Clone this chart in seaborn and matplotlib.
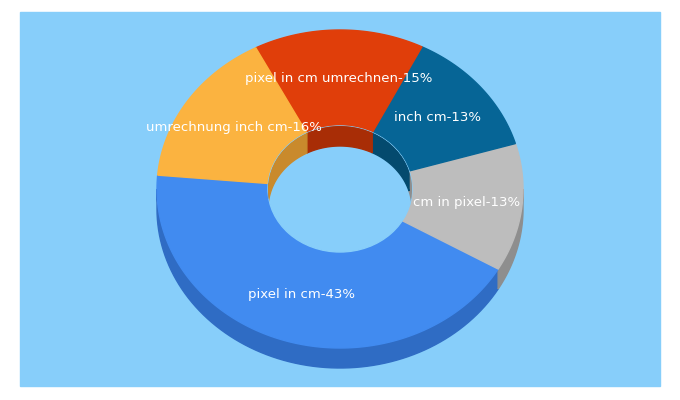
import numpy as np
import matplotlib
matplotlib.use("Agg")
import matplotlib.pyplot as plt
from matplotlib.patches import Polygon, Rectangle, Ellipse
import seaborn as sns

sns.set_theme(style="white")
plt.rcParams["font.family"] = ["DejaVu Sans"]

labels = ["pixel in cm", "cm in pixel", "inch cm", "pixel in cm umrechnen", "umrechnung inch cm"]
shares = [43, 13, 13, 15, 16]
colors = ["#418bf0", "#bdbdbd", "#066596", "#e03e0a", "#fbb340"]
sides = ["#2f6cc4", "#8e8e8e", "#044a6e", "#a82d06", "#c98a2c"]

cx, cy, rx, ry, irx, iry, depth = 340, 189, 183, 159, 72, 63, 20
start = 175.0

fig = plt.figure(figsize=(6.8, 4), dpi=100)
ax = fig.add_axes([0, 0, 1, 1])
ax.set_xlim(0, 680)
ax.set_ylim(400, 0)
ax.axis("off")
ax.add_patch(Rectangle((20, 12), 640, 374, color="#87cefa", zorder=0))


def pt(a, sx, sy, dy=0):
    r = np.radians(a)
    return cx + sx * np.cos(r), cy - sy * np.sin(r) + dy


angles = []
a = start
for s in shares:
    angles.append((a, a + s * 3.6))
    a += s * 3.6

# outer side walls (front half only)
for (a1, a2), sc in zip(angles, sides):
    for k in (0, 360):
        lo, hi = max(a1, 180 + k), min(a2, 360 + k)
        if lo < hi:
            t = np.linspace(lo, hi, 80)
            top = np.column_stack(pt(t, rx, ry))
            bot = np.column_stack(pt(t[::-1], rx, ry, depth))
            ax.add_patch(Polygon(np.vstack([top, bot]), color=sc, zorder=1))

# top faces
for (a1, a2), c in zip(angles, colors):
    t = np.linspace(a1, a2, 120)
    outer = np.column_stack(pt(t, rx, ry))
    inner = np.column_stack(pt(t[::-1], irx, iry))
    ax.add_patch(Polygon(np.vstack([outer, inner]), color=c, zorder=2))

# hole
hole = Ellipse((cx, cy), 2 * irx, 2 * iry, color="#87cefa", zorder=3)
ax.add_patch(hole)
for (a1, a2), sc in zip(angles, sides):
    for k in (0, 360):
        lo, hi = max(a1, 0 + k), min(a2, 180 + k)
        if lo < hi:
            t = np.linspace(lo, hi, 80)
            top = np.column_stack(pt(t, irx, iry))
            bot = np.column_stack(pt(t[::-1], irx, iry, depth))
            p = Polygon(np.vstack([top, bot]), color=sc, zorder=4)
            ax.add_patch(p)
            p.set_clip_path(hole)

# labels
for (a1, a2), lab, s in zip(angles, labels, shares):
    m = (a1 + a2) / 2
    x, y = pt(m, (rx + irx) / 2, (ry + iry) / 2)
    ax.text(x, y, f"{lab}-{s}%", color="white", fontsize=9.5,
            ha="center", va="center", zorder=5)

fig.savefig("out.png", dpi=100)
